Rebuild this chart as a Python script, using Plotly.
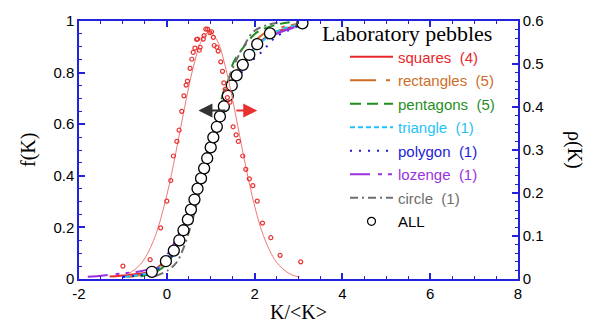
import plotly.graph_objects as go

# ---------------- data ----------------
ALL_K = [-0.34, -0.02, 0.16, 0.285, 0.38, 0.48, 0.55, 0.63, 0.70, 0.78, 0.85, 0.92, 1.00,
         1.06, 1.14, 1.21, 1.30, 1.39, 1.48, 1.59, 1.73, 1.88, 2.06, 2.35, 3.09]
ALL_F = [0.028, 0.069, 0.110, 0.150, 0.189, 0.230, 0.269, 0.308, 0.350, 0.390, 0.429, 0.468, 0.510,
         0.549, 0.590, 0.630, 0.669, 0.710, 0.750, 0.789, 0.830, 0.869, 0.910, 0.952, 0.991]

SQUARES_K = [-1.3, -0.9, -0.55, -0.35, -0.1, 0.1, 0.28, 0.47, 0.63, 0.78, 0.92, 1.0, 1.14, 1.3, 1.48, 1.73, 2.06, 2.4, 2.8, 3.2]
SQUARES_F = [0.01, 0.015, 0.022, 0.03, 0.06, 0.10, 0.15, 0.23, 0.31, 0.39, 0.47, 0.51, 0.59, 0.67, 0.75, 0.83, 0.91, 0.95, 0.975, 0.99]

RECT_K = [-0.9, -0.6, -0.35, -0.1, 0.1, 0.3, 0.48, 0.64, 0.8, 0.94, 1.02, 1.15, 1.31, 1.47, 1.7, 1.95, 2.2, 2.6, 3.05]
RECT_F = [0.008, 0.015, 0.03, 0.055, 0.095, 0.15, 0.23, 0.31, 0.39, 0.47, 0.51, 0.59, 0.67, 0.75, 0.84, 0.91, 0.95, 0.975, 0.99]

PENT_K = [-0.6, -0.22, 0.0, 0.2, 0.36, 0.52, 0.66, 0.8, 0.92, 1.02, 1.12, 1.22, 1.32, 1.42, 1.52, 1.71, 2.05, 2.46, 2.8]
PENT_F = [0.01, 0.03, 0.06, 0.11, 0.17, 0.25, 0.33, 0.41, 0.48, 0.54, 0.61, 0.68, 0.74, 0.78, 0.84, 0.89, 0.956, 0.984, 0.995]

TRI_K = [-0.95, -0.5, -0.3, -0.05, 0.15, 0.3, 0.48, 0.63, 0.78, 0.92, 1.06, 1.21, 1.39, 1.59, 1.85, 2.1, 2.5, 3.1]
TRI_F = [0.009, 0.019, 0.03, 0.065, 0.11, 0.15, 0.23, 0.31, 0.39, 0.47, 0.55, 0.63, 0.71, 0.79, 0.86, 0.91, 0.96, 0.99]

POLY_K = [-1.0, -0.6, -0.3, 0.0, 0.2, 0.35, 0.52, 0.68, 0.83, 0.97, 1.1, 1.26, 1.44, 1.66, 1.9, 2.1, 2.31, 2.5, 3.0]
POLY_F = [0.008, 0.015, 0.03, 0.065, 0.11, 0.15, 0.23, 0.31, 0.39, 0.47, 0.55, 0.63, 0.71, 0.79, 0.84, 0.87, 0.908, 0.94, 0.98]

LOZ_K = [-1.8, -1.6, -1.15, -0.6, -0.3, -0.16, 0.03, 0.2, 0.38, 0.55, 0.7, 0.85, 1.0, 1.14, 1.3, 1.5, 1.75, 2.1, 2.5, 2.9, 3.3]
LOZ_F = [0.009, 0.011, 0.019, 0.03, 0.045, 0.06, 0.10, 0.15, 0.21, 0.28, 0.35, 0.43, 0.51, 0.59, 0.67, 0.75, 0.83, 0.91, 0.95, 0.975, 0.99]

CIRC_K = [-0.25, 0.03, 0.23, 0.38, 0.5, 0.62, 0.74, 0.86, 0.97, 1.07, 1.18, 1.3, 1.42, 1.56, 1.75, 1.97, 2.28, 2.6]
CIRC_F = [0.012, 0.034, 0.066, 0.12, 0.18, 0.25, 0.33, 0.41, 0.49, 0.56, 0.64, 0.71, 0.78, 0.84, 0.9, 0.958, 0.984, 0.995]

RHO_K = [-1.0, -0.38, -0.14, 0.0, 0.09, 0.15, 0.23, 0.28, 0.34, 0.39, 0.44, 0.47, 0.53, 0.57, 0.60, 0.64,
         0.74, 0.76, 0.70, 0.68, 0.83, 0.85, 0.89, 0.93, 0.98, 1.02, 1.06, 1.08, 1.14, 1.17, 1.23, 1.27,
         1.30, 1.33, 1.38, 1.44, 1.51, 1.58, 1.63, 1.73, 1.80, 1.88, 1.96, 2.06, 2.18, 2.37, 2.58, 3.05]
RHO_V = [0.030, 0.045, 0.119, 0.181, 0.229, 0.286, 0.320, 0.346, 0.390, 0.426, 0.451, 0.460, 0.490, 0.511, 0.527, 0.537,
         0.532, 0.539, 0.558, 0.557, 0.558, 0.566, 0.581, 0.581, 0.573, 0.575, 0.562, 0.543, 0.539, 0.530, 0.505, 0.483,
         0.456, 0.441, 0.422, 0.411, 0.354, 0.335, 0.320, 0.286, 0.255, 0.233, 0.217, 0.181, 0.130, 0.096, 0.055, 0.040]

FIT_K = [-0.9, -0.6, -0.3, 0.0, 0.2, 0.4, 0.6, 0.8, 0.97, 1.15, 1.35, 1.55, 1.75, 1.95, 2.2, 2.5, 2.8, 3.03]
FIT_V = [0.010, 0.034, 0.090, 0.195, 0.291, 0.396, 0.491, 0.556, 0.575, 0.554, 0.487, 0.391, 0.286, 0.191, 0.101, 0.039, 0.012, 0.004]

X_TICKS = [-2, 0, 2, 4, 6, 8]
X_TICKTEXT = ["-2", "0", "2", "4", "6", "8"]

SERIES = [
    ("squares", "(4)", SQUARES_K, SQUARES_F, "#e8262b", "solid"),
    ("rectangles", "(5)", RECT_K, RECT_F, "#cf6d28", "26px,10px,4px,6px"),
    ("pentagons", "(5)", PENT_K, PENT_F, "#1f8f1f", "11px,6px"),
    ("triangle", "(1)", TRI_K, TRI_F, "#1fc3f5", "5px,3px"),
    ("polygon", "(1)", POLY_K, POLY_F, "#1c1cd6", "2px,7px"),
    ("lozenge", "(1)", LOZ_K, LOZ_F, "#9b30e0", "20px,8px,4px,6px,4px,6px"),
    ("circle", "(1)", CIRC_K, CIRC_F, "#6e6e6e", "8px,4px,2px,4px"),
]

AXIS_BLUE = "#2222dd"
SANS = "Liberation Sans, Arial, sans-serif"
SERIF = "Liberation Serif, Times New Roman, serif"

fig = go.Figure()

# density fit + points (right axis)
fig.add_trace(go.Scatter(x=FIT_K, y=FIT_V, yaxis="y2", mode="lines",
                         line=dict(color="#f07878", width=1, shape="spline"),
                         showlegend=False, hoverinfo="skip"))
fig.add_trace(go.Scatter(x=RHO_K, y=RHO_V, yaxis="y2", mode="markers",
                         marker=dict(symbol="circle-open", size=4, color="#e83030", line=dict(width=1.2)),
                         showlegend=False))

for i, (nm, cnt, kx, fy, col, dash) in enumerate(SERIES):
    fig.add_trace(go.Scatter(
        x=kx, y=fy, mode="lines",
        line=dict(color=col, width=2, dash=dash, shape="spline"),
        name=f"<span style='color:{col}'>{nm}\u00a0 {cnt}</span>",
        legendgroup=f"g{i}",
    ))

fig.add_trace(go.Scatter(
    x=ALL_K, y=ALL_F, mode="markers",
    marker=dict(symbol="circle", size=11, color="white", line=dict(color="black", width=1.3)),
    name="ALL", legendgroup="gall", showlegend=False,
))
# legend-only entry for ALL (smaller symbol, as in the original legend)
fig.add_trace(go.Scatter(
    x=[None], y=[None], mode="markers",
    marker=dict(symbol="circle", size=8, color="white", line=dict(color="black", width=1.2)),
    name="ALL", legendgroup="gall",
))

# arrows
ARROW_Y = 0.653
fig.add_annotation(x=0.72, y=ARROW_Y, ax=1.37, ay=ARROW_Y, xref="x", yref="y", axref="x", ayref="y",
                   showarrow=True, arrowhead=2, arrowsize=1.4, arrowwidth=2, arrowcolor="#333333", text="")
fig.add_annotation(x=2.06, y=ARROW_Y, ax=1.55, ay=ARROW_Y, xref="x", yref="y", axref="x", ayref="y",
                   showarrow=True, arrowhead=2, arrowsize=1.4, arrowwidth=2, arrowcolor="#e83030", text="")

# titles
ann = dict(xref="paper", yref="paper", showarrow=False, xanchor="center", yanchor="middle")
fig.add_annotation(text="Laboratory pebbles", x=(407 - 79) / 439, y=(279 - 28) / 264,
                   font=dict(family=SERIF, size=22, color="black"), **ann)
fig.add_annotation(text="f(K)", x=(28 - 79) / 439, y=0.5, textangle=-90,
                   font=dict(family=SERIF, size=20, color="black"), **ann)
fig.add_annotation(text="ρ(K)", x=(575 - 79) / 439, y=0.5, textangle=90,
                   font=dict(family=SERIF, size=20, color="black"), **ann)
fig.add_annotation(text="K/&lt;K&gt;", x=0.5, y=(279 - 313) / 264,
                   font=dict(family=SERIF, size=20, color="black"), **ann)

axis_common = dict(showline=True, linecolor=AXIS_BLUE, linewidth=1.5, ticks="inside",
                   tickcolor=AXIS_BLUE, ticklen=6, tickwidth=1.5, showgrid=False, zeroline=False,
                   tickfont=dict(family=SANS, size=15, color="black"))

fig.update_layout(
    width=598, height=324,
    margin=dict(l=79, r=80, t=15, b=45),
    paper_bgcolor="white", plot_bgcolor="white",
    xaxis=dict(range=[-2, 8], tickvals=X_TICKS, ticktext=X_TICKTEXT, mirror="ticks",
               minor=dict(dtick=0.5, ticks="inside", ticklen=3, tickcolor=AXIS_BLUE, tickwidth=1.2),
               **axis_common),
    yaxis=dict(range=[0, 1], dtick=0.2,
               minor=dict(dtick=0.05, ticks="inside", ticklen=3, tickcolor=AXIS_BLUE, tickwidth=1.2),
               **axis_common),
    yaxis2=dict(range=[0, 0.6], dtick=0.1, overlaying="y", side="right",
                minor=dict(dtick=0.02, ticks="inside", ticklen=3, tickcolor=AXIS_BLUE, tickwidth=1.2),
                **axis_common),
    legend=dict(x=(345 - 79) / 439, y=(279 - 35) / 264, xanchor="left", yanchor="top",
                bgcolor="rgba(0,0,0,0)", font=dict(family=SANS, size=15, color="black"),
                tracegroupgap=1, itemwidth=43),
    showlegend=True,
)

fig.write_html("out.html")
